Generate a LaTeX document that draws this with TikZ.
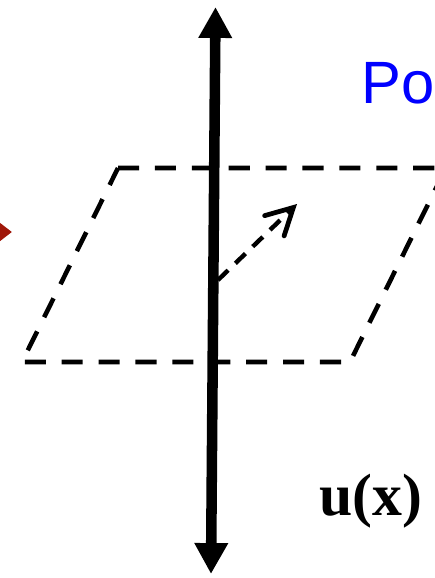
\documentclass[tikz,border=0pt]{standalone}
\usepackage{fontspec}
\usepackage{xcolor}
\newfontfamily\plsans{Liberation Sans}
\newfontfamily\plserif{Liberation Serif}
\definecolor{plink}{HTML}{000000}
\definecolor{plblue}{HTML}{0000FF}
\definecolor{plred}{HTML}{A0180A}
\usetikzlibrary{arrows.meta}
\tikzset{
  plaxis/.style ={{Triangle[length=17.6pt,width=18pt]}-{Triangle[length=17.6pt,width=18pt]},
                  line width=6pt, draw=plink},
  plplane/.style={line width=2.6pt, draw=plink, dash pattern=on 12pt off 9pt},
  plvec/.style  ={-{Straight Barb[length=15pt,width=16pt,line width=2.7pt,line cap=round]},
                  line width=2.5pt, draw=plink, dash pattern=on 8pt off 5.7pt},
  plin/.style   ={-{Triangle[length=15pt,width=22pt]}, line width=5pt, draw=plred},
  pllbl/.style  ={inner sep=0pt, anchor=base west},
}

\begin{document}
\begin{tikzpicture}[x=0.02cm, y=-0.02cm]
  \useasboundingbox (0,0) rectangle (435,578);
  \clip (0,0) rectangle (435,578);
  % plane
  \coordinate (c1) at (118,168);
  \coordinate (c2) at (446,168);
  \coordinate (c3) at (350,362);
  \coordinate (c4) at (22,362);
  \draw[plplane] (c1) -- (c2) -- (c3) -- (c4) -- cycle;
  % axis through the plane
  \coordinate (top) at (215.5,7);
  \coordinate (bot) at (211,574);
  \draw[plaxis] (top) -- (bot);
  % vector on the plane
  \coordinate (v0) at (218,280);
  \coordinate (v1) at (297,204);
  \draw[plvec] (v0) -- (v1);
  % incoming arrow at the left edge
  \coordinate (in0) at (-60,232);
  \coordinate (in1) at (12,232);
  \draw[plin] (in0) -- (in1);
  % labels
  \node[pllbl, text=plblue, font=\plsans\fontsize{34}{40}\selectfont] (po) at (361,103) {Po};
  \node[pllbl, font=\plserif\bfseries\fontsize{34}{40}\selectfont] (ux) at (319,515) {u(x)};
\end{tikzpicture}
\end{document}
